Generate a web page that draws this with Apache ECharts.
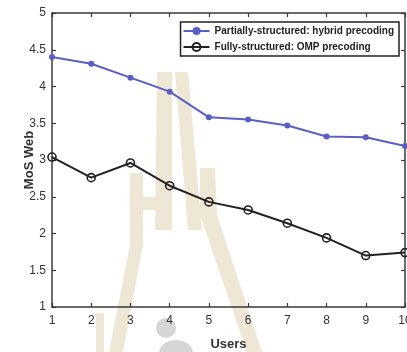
<!DOCTYPE html>
<html>
<head>
<meta charset="utf-8">
<script src="https://cdn.jsdelivr.net/npm/echarts@6/dist/echarts.min.js"></script>
<style>
  html, body { margin: 0; padding: 0; background: #fff; }
  #chart { width: 407px; height: 352px; }
</style>
</head>
<body>
<div id="chart"></div>
<script>
// Number of users on the x axis
const users = [1, 2, 3, 4, 5, 6, 7, 8, 9, 10];
// Web MoS per scheme
const hybridMos = [4.40, 4.31, 4.12, 3.93, 3.58, 3.55, 3.47, 3.32, 3.31, 3.19];
const ompMos = [3.04, 2.76, 2.96, 2.65, 2.43, 2.32, 2.14, 1.94, 1.70, 1.74];
const seriesNames = ['Partially-structured: hybrid precoding', 'Fully-structured: OMP precoding'];

const axisColor = '#3a3a3a';
const labelFont = { color: '#333', fontSize: 12, fontFamily: 'Liberation Sans, Arial, sans-serif' };
const nameFont = { color: '#333', fontSize: 13, fontWeight: 'bold', fontFamily: 'Liberation Sans, Arial, sans-serif' };

const boxAxis = {
  axisLine: { show: true, lineStyle: { color: axisColor, width: 1.5 } },
  axisTick: { show: true, inside: true, length: 4, lineStyle: { color: axisColor, width: 1.2 } },
  splitLine: { show: false }
};

// Faint campus watermark behind the plot
const beige = '#efe7d6';
const watermark = [
  [[157, 72], [172, 72], [172, 230], [155, 230]],
  [[175, 72], [188, 72], [202, 230], [188, 230]],
  [[143, 197], [157, 197], [157, 210], [143, 210]],
  [[130, 173], [143, 173], [143, 245], [123, 352], [109, 352], [130, 245]],
  [[200, 168], [215, 168], [217, 215], [262, 352], [247, 352], [200, 215]],
  [[96, 313], [104, 313], [104, 352], [96, 352]]
].map(pts => ({ type: 'polygon', z: -10, silent: true, shape: { points: pts }, style: { fill: beige } }));
watermark.push(
  { type: 'circle', z: -10, silent: true, shape: { cx: 166, cy: 328, r: 10 }, style: { fill: '#d6d6d6' } },
  { type: 'ellipse', z: -10, silent: true, shape: { cx: 176, cy: 353, rx: 17, ry: 13 }, style: { fill: '#d6d6d6' } }
);

const chart = echarts.init(document.getElementById('chart'), null, { renderer: 'canvas' });
chart.setOption({
  animation: false,
  backgroundColor: '#fff',
  graphic: watermark,
  grid: { left: 52, right: 2, top: 13, bottom: 45, containLabel: false, outerBoundsMode: 'none' },
  legend: {
    data: seriesNames,
    orient: 'vertical',
    right: 8,
    top: 22,
    itemWidth: 26,
    itemHeight: 10,
    itemGap: 6,
    padding: [4, 5, 4, 2],
    backgroundColor: '#fff',
    borderColor: '#222',
    borderWidth: 1.5,
    textStyle: { color: '#222', fontSize: 10, fontWeight: 'bold', fontFamily: 'Liberation Sans, Arial, sans-serif' }
  },
  xAxis: [
    Object.assign({
      type: 'value', min: 1, max: 10, interval: 1, position: 'bottom',
      name: 'Users', nameLocation: 'middle', nameGap: 31, nameTextStyle: nameFont,
      axisLabel: Object.assign({ margin: 8 }, labelFont)
    }, boxAxis),
    Object.assign({
      type: 'value', min: 1, max: 10, interval: 1, position: 'top',
      axisLabel: { show: false }
    }, boxAxis)
  ],
  yAxis: [
    Object.assign({
      type: 'value', min: 1, max: 5, interval: 0.5, position: 'left',
      name: 'MoS Web', nameLocation: 'middle', nameGap: 16, nameMoveOverlap: false,
      nameTextStyle: nameFont,
      axisLabel: Object.assign({ margin: 6 }, labelFont)
    }, boxAxis),
    Object.assign({
      type: 'value', min: 1, max: 5, interval: 0.5, position: 'right',
      axisLabel: { show: false }
    }, boxAxis)
  ],
  series: [
    {
      name: seriesNames[0], type: 'line',
      data: users.map((u, i) => [u, hybridMos[i]]),
      symbol: 'circle', symbolSize: 6,
      lineStyle: { color: '#5a5fc4', width: 2 },
      itemStyle: { color: '#5a5fc4' }
    },
    {
      name: seriesNames[1], type: 'line',
      data: users.map((u, i) => [u, ompMos[i]]),
      symbol: 'circle', symbolSize: 8,
      lineStyle: { color: '#222', width: 2 },
      itemStyle: { color: 'rgba(255,255,255,0)', borderColor: '#222', borderWidth: 1.6 }
    }
  ]
});
</script>
</body>
</html>
